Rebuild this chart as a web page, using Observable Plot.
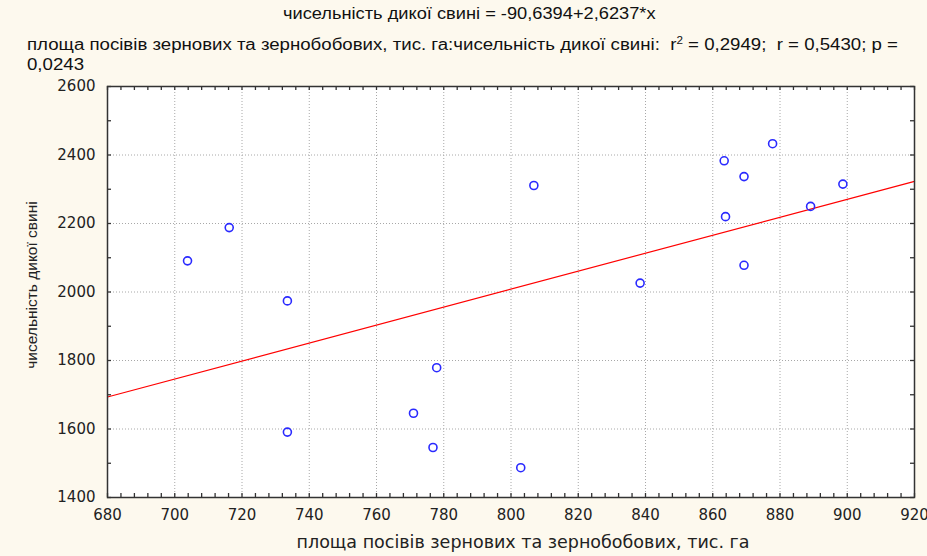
<!DOCTYPE html>
<html>
<head>
<meta charset="utf-8">
<script src="https://cdn.jsdelivr.net/npm/d3@7"></script>
<script src="https://cdn.jsdelivr.net/npm/@observablehq/plot@0.6"></script>
<style>
  html, body { margin: 0; padding: 0; background: #fdf9ee; }
  #page { position: relative; width: 927px; height: 556px; overflow: hidden; background: #fdf9ee; }
  .ttl { position: absolute; white-space: nowrap; font-family: "Liberation Sans", Arial, sans-serif; font-size: 16px; color: #111; line-height: 1; transform-origin: 0 0; }
  #t1 { left: 283px; top: 6px; transform: scaleX(1.14); }
  #t2 { left: 27px; top: 36px; transform: scaleX(1.165); }
  #t3 { left: 27px; top: 57px; transform: scaleX(1.165); }
  #chart { position: absolute; left: 0; top: 72px; }
</style>
</head>
<body>
<div id="page">
  <div class="ttl" id="t1"></div>
  <div class="ttl" id="t2"></div>
  <div class="ttl" id="t3"></div>
  <div id="chart"></div>
</div>
<script>
// Sown area of grain and leguminous crops (thousand ha) vs. wild boar numbers
const area = [703.8, 716.2, 733.5, 733.5, 771.0, 776.8, 777.9, 802.9, 806.8, 838.4, 863.4, 863.8, 869.3, 869.3, 877.8, 889.1, 898.7];
const boars = [2091, 2188, 1974, 1591, 1646, 1546, 1779, 1487, 2311, 2026, 2383, 2220, 2337, 2078, 2433, 2250, 2315];

// Fitted regression: boars = intercept + slope * area
const intercept = -90.6394;
const slope = 2.6237;
const r2 = "0,2949", rCoef = "0,5430", pValue = "0,0243";

const xDomain = [680, 920];
const yDomain = [1400, 2600];
const xTicks = [680, 700, 720, 740, 760, 780, 800, 820, 840, 860, 880, 900, 920];
const yTicks = [1400, 1600, 1800, 2000, 2200, 2400, 2600];
const xMinor = d3.range(680, 921, 4);
const yMinor = d3.range(1400, 2601, 100);

const xLabel = "площа посівів зернових та зернобобових, тис. га";
const yLabel = "чисельність дикої свині";

document.getElementById("t1").textContent = `${yLabel} = -90,6394+2,6237*x`;
document.getElementById("t2").innerHTML = `${xLabel}:${yLabel}:&nbsp; r<sup style="font-size:10px">2</sup> = ${r2};&nbsp; r = ${rCoef}; p =`;
document.getElementById("t3").textContent = pValue;

const points = area.map((x, i) => ({x, y: boars[i]}));
const fit = xDomain.map(x => ({x, y: intercept + slope * x}));

const W = 927, H = 484;
const mt = 14, mb = 59, ml = 107, mr = 13;
const innerW = W - ml - mr, innerH = H - mt - mb;
const tickLen = 4;
const axisColor = "#333";

const chart = Plot.plot({
  width: W,
  height: H,
  marginTop: mt,
  marginBottom: mb,
  marginLeft: ml,
  marginRight: mr,
  style: {background: "transparent", fontFamily: "'DejaVu Sans', sans-serif", fontSize: "15px", color: "#222"},
  x: {domain: xDomain, label: null},
  y: {domain: yDomain, label: null},
  marks: [
    Plot.frame({fill: "white"}),
    Plot.gridX(xTicks, {stroke: "#a8a8a8", strokeOpacity: 1, strokeDasharray: "1,2"}),
    Plot.gridY(yTicks, {stroke: "#a8a8a8", strokeOpacity: 1, strokeDasharray: "1,2"}),
    Plot.axisX(xTicks, {tickSize: 0, tickPadding: 12, fontSize: 15, fill: "#222", tickFormat: d => String(d)}),
    Plot.axisY(yTicks, {tickSize: 0, tickPadding: 12, fontSize: 15, fill: "#222", tickFormat: d => String(d)}),
    // inward tick marks on all four sides
    Plot.tickX(xMinor, {x: d => d, insetTop: innerH - tickLen, stroke: axisColor, strokeWidth: 1.3}),
    Plot.tickX(xMinor, {x: d => d, insetBottom: innerH - tickLen, stroke: axisColor, strokeWidth: 1.3}),
    Plot.tickY(yMinor, {y: d => d, insetRight: innerW - tickLen, stroke: axisColor, strokeWidth: 1.3}),
    Plot.tickY(yMinor, {y: d => d, insetLeft: innerW - tickLen, stroke: axisColor, strokeWidth: 1.3}),
    Plot.line(fit, {x: "x", y: "y", stroke: "#ff0000", strokeWidth: 1.2}),
    Plot.dot(points, {x: "x", y: "y", r: 4, stroke: "#2a2aff", strokeWidth: 1.6, fill: "none"}),
    Plot.frame({stroke: axisColor, strokeWidth: 1.5}),
    Plot.text([xLabel], {frameAnchor: "bottom", dx: 12, dy: 50, text: d => d, fontSize: 17.5, fill: "#222"}),
    Plot.text([yLabel], {frameAnchor: "left", textAnchor: "middle", rotate: -90, dx: -75, dy: -7, text: d => d, fontSize: 15.5, fill: "#222", fontFamily: "'Liberation Sans', sans-serif"})
  ]
});
document.getElementById("chart").appendChild(chart);
</script>
</body>
</html>
